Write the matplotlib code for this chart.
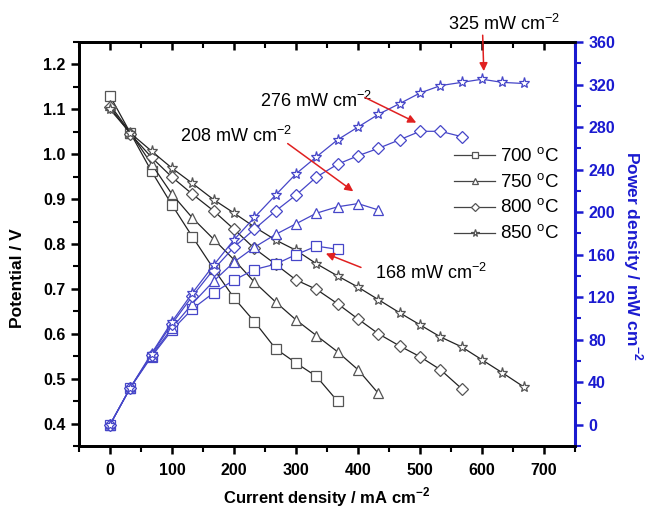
import matplotlib.pyplot as plt
import numpy as np
from matplotlib.ticker import MultipleLocator

plt.rcParams['font.family'] = ['Liberation Sans', 'DejaVu Sans']
plt.rcParams['mathtext.fontset'] = 'custom'
plt.rcParams['mathtext.rm'] = 'Liberation Sans'
plt.rcParams['mathtext.bf'] = 'Liberation Sans:bold'

# current density (mA cm-2)
cur = [0, 33, 67, 100, 133, 167, 200, 233, 267, 300, 333, 367, 400, 433,
       467, 500, 533, 567, 600, 633, 667]

# potential (V)
v700 = [1.13, 1.047, 0.962, 0.887, 0.816, 0.745, 0.68, 0.627, 0.567, 0.535, 0.505, 0.45]
v750 = [1.11, 1.048, 0.978, 0.911, 0.858, 0.811, 0.765, 0.715, 0.671, 0.631, 0.596,
        0.56, 0.52, 0.467]
v800 = [1.105, 1.045, 0.993, 0.949, 0.911, 0.874, 0.833, 0.79, 0.755, 0.72, 0.699,
        0.667, 0.633, 0.60, 0.573, 0.549, 0.52, 0.478]
v850 = [1.10, 1.047, 1.007, 0.969, 0.935, 0.899, 0.869, 0.838, 0.809, 0.786, 0.756,
        0.729, 0.704, 0.676, 0.647, 0.62, 0.593, 0.571, 0.542, 0.513, 0.482]

# power density (mW cm-2)
p700 = [0, 35, 64, 89, 109, 124, 136, 146, 151, 160, 168, 165]
p750 = [0, 35, 65, 91, 114, 135, 153, 167, 179, 189, 199, 205, 208, 202]
p800 = [0, 35, 66, 95, 121, 146, 167, 184, 201, 216, 233, 245, 253, 260, 268, 276,
        276, 271]
p850 = [0, 35, 67, 97, 124, 150, 174, 195, 216, 236, 252, 268, 280, 292, 302, 312,
        319, 322, 325, 322, 321]

labels = ['700 $^\\mathrm{o}$C', '750 $^\\mathrm{o}$C', '800 $^\\mathrm{o}$C',
          '850 $^\\mathrm{o}$C']
markers = ['s', '^', 'D', '*']
msizes = [6.5, 7, 6, 8]

volts = [v700, v750, v800, v850]
powers = [p700, p750, p800, p850]

blue_ax = '#1a1ad0'
blue_ln = '#4646c8'

fig = plt.figure(figsize=(6.56, 5.11), dpi=100)
ax = fig.add_axes([0.1204, 0.1272, 0.7561, 0.7906])
ax2 = ax.twinx()

for v, m, ms, lab in zip(volts, markers, msizes, labels):
    ax.plot(cur[:len(v)], v, '-', color='#222222', lw=0.9, marker=m, ms=ms,
            mfc='white', mec='#555555', mew=0.9, label=lab)

for p, m, ms in zip(powers, markers, msizes):
    ax2.plot(cur[:len(p)], p, '-', color=blue_ln, lw=0.9, marker=m, ms=ms,
             mfc='white', mec=blue_ln, mew=0.9)

ax.set_xlim(-50, 750)
ax.set_ylim(0.35, 1.25)
ax2.set_ylim(-20, 360)

ax.xaxis.set_major_locator(MultipleLocator(100))
ax.xaxis.set_minor_locator(MultipleLocator(50))
ax.yaxis.set_major_locator(MultipleLocator(0.1))
ax.yaxis.set_minor_locator(MultipleLocator(0.05))
ax2.yaxis.set_major_locator(MultipleLocator(40))
ax2.yaxis.set_minor_locator(MultipleLocator(20))

for s in ['left', 'bottom', 'top']:
    ax.spines[s].set_linewidth(2)
    ax2.spines[s].set_linewidth(2)
ax2.spines['right'].set_linewidth(2.2)
ax2.spines['right'].set_color(blue_ax)

ax.tick_params(axis='x', which='both', direction='out', top=True)
ax.tick_params(axis='x', which='major', length=6, width=1.8, labelsize=11.5, pad=6)
ax.tick_params(axis='x', which='minor', length=4, width=1.5)
ax.tick_params(axis='y', which='major', length=6, width=1.8, labelsize=11.5)
ax.tick_params(axis='y', which='minor', length=4, width=1.5)
ax.tick_params(axis='y', which='both', direction='out')
ax2.tick_params(axis='y', which='major', length=6, width=1.8, labelsize=11.5,
                colors=blue_ax)
ax2.tick_params(axis='y', which='minor', length=4, width=1.5, colors=blue_ax)
# top ticks point inward
for t in ax.xaxis.get_major_ticks() + ax.xaxis.get_minor_ticks():
    t.tick2line.set_marker(3)

for lab in ax.get_xticklabels() + ax.get_yticklabels() + ax2.get_yticklabels():
    lab.set_fontweight('bold')

ax.set_xlabel('Current density / mA cm$^{\\mathbf{-2}}$', fontsize=12,
              fontweight='bold', va='center')
ax.xaxis.set_label_coords(0.5, -0.126)
ax.set_ylabel('Potential / V', fontsize=12.5, fontweight='bold', va='center')
ax.yaxis.set_label_coords(-0.123, 0.416)
ax2.set_ylabel('Power density / mW cm$^{\\mathbf{-2}}$', fontsize=12.5,
               fontweight='bold', color=blue_ax, rotation=270, va='center')
ax2.yaxis.set_label_coords(1.117, 0.47)

leg = ax.legend(loc='upper left', bbox_to_anchor=(454 / 656, 1 - 147 / 511),
                bbox_transform=fig.transFigure, frameon=False, fontsize=13.5,
                handlelength=2.2, handletextpad=0.27, labelspacing=0.38,
                borderpad=0, borderaxespad=0, markerscale=0.7)
for h in leg.legend_handles:
    h.set_color('#444444')

arrow = dict(arrowstyle='-|>', color='#e02020', lw=1.1, mutation_scale=12)
ax2.text(635, 377, '325 mW cm$^{-2}$', ha='center', va='center', fontsize=13,
         clip_on=False)
ax2.annotate('', xy=(603, 330), xytext=(601, 369), annotation_clip=False,
             arrowprops=arrow)
ax2.text(242, 305, '276 mW cm$^{-2}$', ha='left', va='center', fontsize=13)
ax2.annotate('', xy=(498, 283), xytext=(407, 309), arrowprops=arrow)
ax2.text(113, 272, '208 mW cm$^{-2}$', ha='left', va='center', fontsize=13)
ax2.annotate('', xy=(396, 218), xytext=(283, 266), arrowprops=arrow)
ax2.text(428, 143, '168 mW cm$^{-2}$', ha='left', va='center', fontsize=13)
ax2.annotate('', xy=(344, 162), xytext=(409, 147), arrowprops=arrow)

fig.savefig('out.png', dpi=100)
